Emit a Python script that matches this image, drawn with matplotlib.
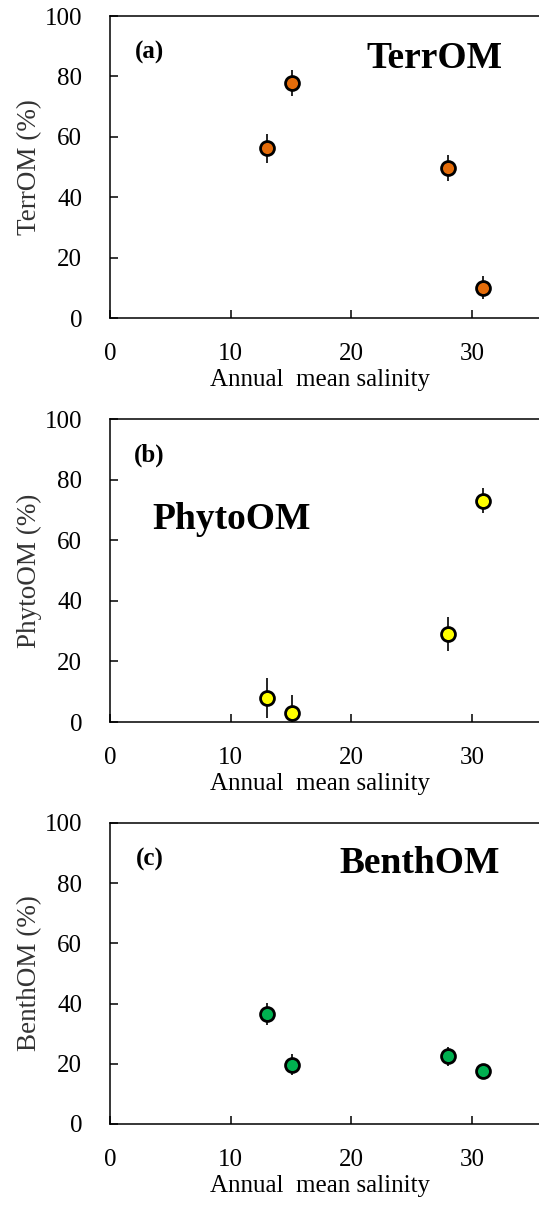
import numpy as np
import matplotlib.pyplot as plt

plt.rcParams['font.family'] = ['Liberation Serif', 'DejaVu Serif']

# salinity of the four stations
salinity = [13.0, 15.1, 28.0, 30.9]

# source contributions (%) and their error bars
terr_mean = [56.2, 77.9, 49.6, 10.1]
terr_err = [4.7, 4.3, 4.3, 3.7]
phyto_mean = [7.9, 3.1, 29.0, 73.1]
phyto_err = [6.6, 5.8, 5.6, 4.1]
benth_mean = [36.5, 19.7, 22.5, 17.5]
benth_err = [3.6, 3.5, 3.2, 2.5]

panels = [
    ('(a)', 'TerrOM', 'TerrOM (%)', terr_mean, terr_err, '#E46C0A', (26.9, 0.86)),
    ('(b)', 'PhytoOM', 'PhytoOM (%)', phyto_mean, phyto_err, '#FFFF00', (10.1, 0.667)),
    ('(c)', 'BenthOM', 'BenthOM (%)', benth_mean, benth_err, '#00B050', (25.7, 0.864)),
]

fig = plt.figure(figsize=(5.39, 12.06), dpi=100)

# axes boxes in figure fractions [left, bottom, width, height]
boxes = [
    [0.204, 0.7363, 0.895, 0.2504],
    [0.204, 0.4013, 0.895, 0.2512],
    [0.204, 0.0680, 0.895, 0.2496],
]

for (tag, name, ylab, vals, errs, col, pos), box in zip(panels, boxes):
    ax = fig.add_axes(box)
    ax.errorbar(salinity, vals, yerr=errs, fmt='o', color='black', ecolor='black',
                elinewidth=1.2, capsize=0, markersize=10, markerfacecolor=col,
                markeredgecolor='black', markeredgewidth=2.0, zorder=3, clip_on=True)
    ax.set_xlim(0, 40)
    ax.set_ylim(0, 100)
    ax.set_xticks([0, 10, 20, 30])
    ax.set_yticks([0, 20, 40, 60, 80, 100])
    ax.tick_params(direction='in', length=6, width=1.1, labelsize=18, pad=18,
                   colors='black')
    ax.tick_params(axis='y', pad=20)
    for s in ax.spines.values():
        s.set_linewidth(1.1)
    ax.set_xlabel('Annual  mean salinity', fontsize=18)
    ax.xaxis.set_label_coords(0.435, -0.168)
    ax.set_ylabel(ylab, fontsize=19.5, color='#333333')
    ax.yaxis.set_label_coords(-0.14, 0.5)
    ax.text(0.082, 0.88, tag, transform=ax.transAxes, fontsize=18,
            fontweight='bold', va='center', ha='center')
    ax.text(pos[0], pos[1], name, transform=ax.get_xaxis_transform(), fontsize=27,
            fontweight='bold', va='center', ha='center')

fig.savefig('out.png', dpi=100)
